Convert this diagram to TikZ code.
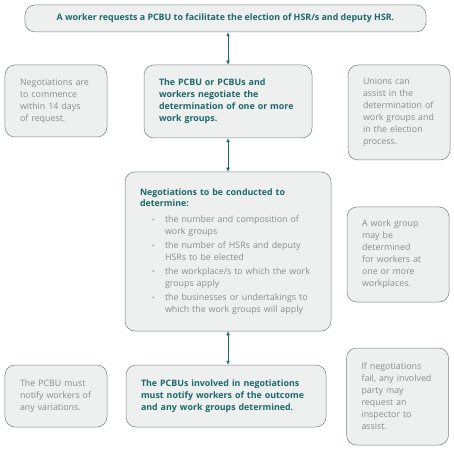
\documentclass[tikz,border=0pt]{standalone}
\usepackage{fontspec}
\setmainfont{Open Sans}
\usetikzlibrary{arrows.meta}
\definecolor{hsrteal}{RGB}{28,104,104}
\definecolor{hsrgrey}{RGB}{140,140,140}
\definecolor{hsrfill}{RGB}{238,239,239}
\definecolor{hsrline}{RGB}{120,130,130}
\newcommand{\wgitem}[2]{\par\vspace{2bp}\hangindent=25bp\hangafter=1\hspace*{12bp}\makebox[13bp][l]{\scriptsize\textbullet}#1\newline #2\par}
\tikzset{
  hsrbox/.style={draw=hsrline, line width=0.5bp, fill=hsrfill, rounded corners=10bp,
    inner ysep=0bp, align=left, font=\fontsize{8.9}{12}\selectfont},
  mainbox/.style={hsrbox, text=hsrteal, font=\fontsize{8.9}{12}\selectfont\bfseries},
  sidebox/.style={hsrbox, text=hsrgrey, inner xsep=15bp, text width=72bp, minimum width=102bp},
  link/.style={hsrteal, line width=0.5bp, {Latex[length=4bp,width=3.5bp]}-{Latex[length=4bp,width=3.5bp]}}
}
\begin{document}
\begin{tikzpicture}[x=1bp,y=-1bp]
  \useasboundingbox (0,0) rectangle (454,450);
  \draw
    (225.5,18.5) node[mainbox, align=center, minimum width=401bp, minimum height=27bp] (request)
      {A worker requests a PCBU to facilitate the election of HSR/s and deputy HSR.}
    (228,101.5) node[mainbox, inner xsep=15bp, text width=138bp, minimum height=73bp] (negotiate)
      {The PCBU or PCBUs and\\ workers negotiate the\\ determination of one or more\\ work groups.}
    (228,251.5) node[hsrbox, inner xsep=15bp, text width=176bp, minimum height=159bp] (determine)
      {{\color{hsrteal}\bfseries Negotiations to be conducted to\\ determine:}\par\vspace{2bp}
       \color{hsrgrey}
       \wgitem{the number and composition of}{work groups}
       \wgitem{the number of HSRs and deputy}{HSRs to be elected}
       \wgitem{the workplace/s to which the work}{groups apply}
       \wgitem{the businesses or undertakings to}{which the work groups will apply}}
    (226,396) node[mainbox, inner xsep=15bp, text width=170bp, minimum height=62bp] (notify)
      {The PCBUs involved in negotiations\\ must notify workers of the outcome\\ and any work groups determined.}
    (56,101) node[sidebox, minimum height=72bp] (commence)
      {Negotiations are\\ to commence\\ within 14 days\\ of request.}
    (56,396) node[sidebox, minimum height=62bp] (variations)
      {The PCBU must\\ notify workers of\\ any variations.}
    (399,112.5) node[sidebox, minimum height=95bp] (unions)
      {Unions can\\ assist in the\\ determination of\\ work groups and\\ in the election\\ process.}
    (398,254.5) node[sidebox, minimum width=100bp, minimum height=95bp] (workplaces)
      {A work group\\ may be\\ determined\\ for workers at\\ one or more\\ workplaces.}
    (397.5,396.5) node[sidebox, minimum width=101bp, minimum height=97bp] (inspector)
      {If negotiations\\ fail, any involved\\ party may\\ request an\\ inspector to\\ assist.};
  \begin{scope}[link]
    \draw (request.south -| negotiate.north) to (negotiate.north);
    \draw (negotiate.south) to (determine.north -| negotiate.south);
    \draw (determine.south -| negotiate.south) to (notify.north -| negotiate.south);
  \end{scope}
\end{tikzpicture}
\end{document}
